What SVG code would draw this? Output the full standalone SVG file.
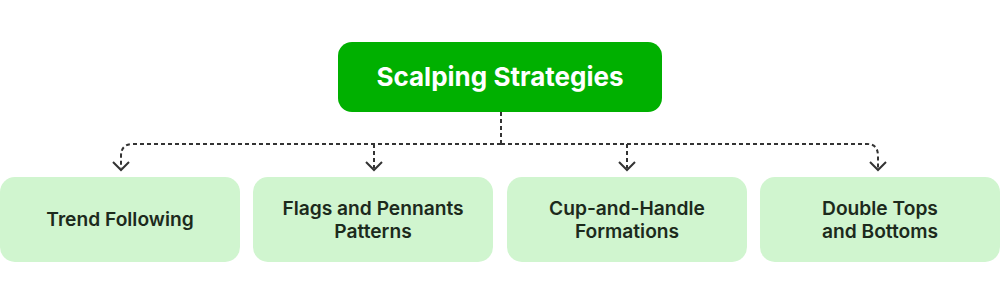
<svg xmlns="http://www.w3.org/2000/svg" width="1000" height="305" viewBox="0 0 1000 305">
<defs>
<style>
.root{fill:#00b000}
.child{fill:#d0f5cf}
.rt{font-family:Inter,"Noto Sans",sans-serif;font-weight:700;font-size:26px;fill:#ffffff;text-anchor:middle}
.ct{font-family:Inter,"Noto Sans",sans-serif;font-weight:600;font-size:19.2px;fill:#1c2a1c;text-anchor:middle}
.dash{fill:none;stroke:#333333;stroke-width:2;stroke-dasharray:4 3}
.head{fill:none;stroke:#333333;stroke-width:2}
</style>
</defs>
<rect width="1000" height="305" fill="#ffffff"/>
<g id="connectors">
<path class="dash" d="M501 112 V144"/>
<path class="dash" d="M501 144 H133 Q121 144 121 156 V168"/>
<path class="dash" d="M501 144 H867 Q878 144 878 156 V168"/>
<path class="dash" d="M374 144 V168"/>
<path class="dash" d="M627 144 V168"/>
<path class="head" d="M113 162 L121 170 L129 162"/>
<path class="head" d="M366 162 L374 170 L382 162"/>
<path class="head" d="M619 162 L627 170 L635 162"/>
<path class="head" d="M870 162 L878 170 L886 162"/>
</g>
<g id="root">
<rect class="root" x="338" y="42" width="324" height="70" rx="14"/>
<text class="rt" x="500" y="86">Scalping Strategies</text>
</g>
<g id="trend">
<rect class="child" x="0" y="177" width="240" height="85" rx="15"/>
<text class="ct" x="120" y="226">Trend Following</text>
</g>
<g id="flags">
<rect class="child" x="253" y="177" width="240" height="85" rx="15"/>
<text class="ct" x="373" y="215">Flags and Pennants</text>
<text class="ct" x="373" y="238">Patterns</text>
</g>
<g id="cup">
<rect class="child" x="507" y="177" width="240" height="85" rx="15"/>
<text class="ct" x="627" y="215">Cup-and-Handle</text>
<text class="ct" x="627" y="238">Formations</text>
</g>
<g id="double">
<rect class="child" x="760" y="177" width="240" height="85" rx="15"/>
<text class="ct" x="880" y="215">Double Tops</text>
<text class="ct" x="880" y="238">and Bottoms</text>
</g>
</svg>
